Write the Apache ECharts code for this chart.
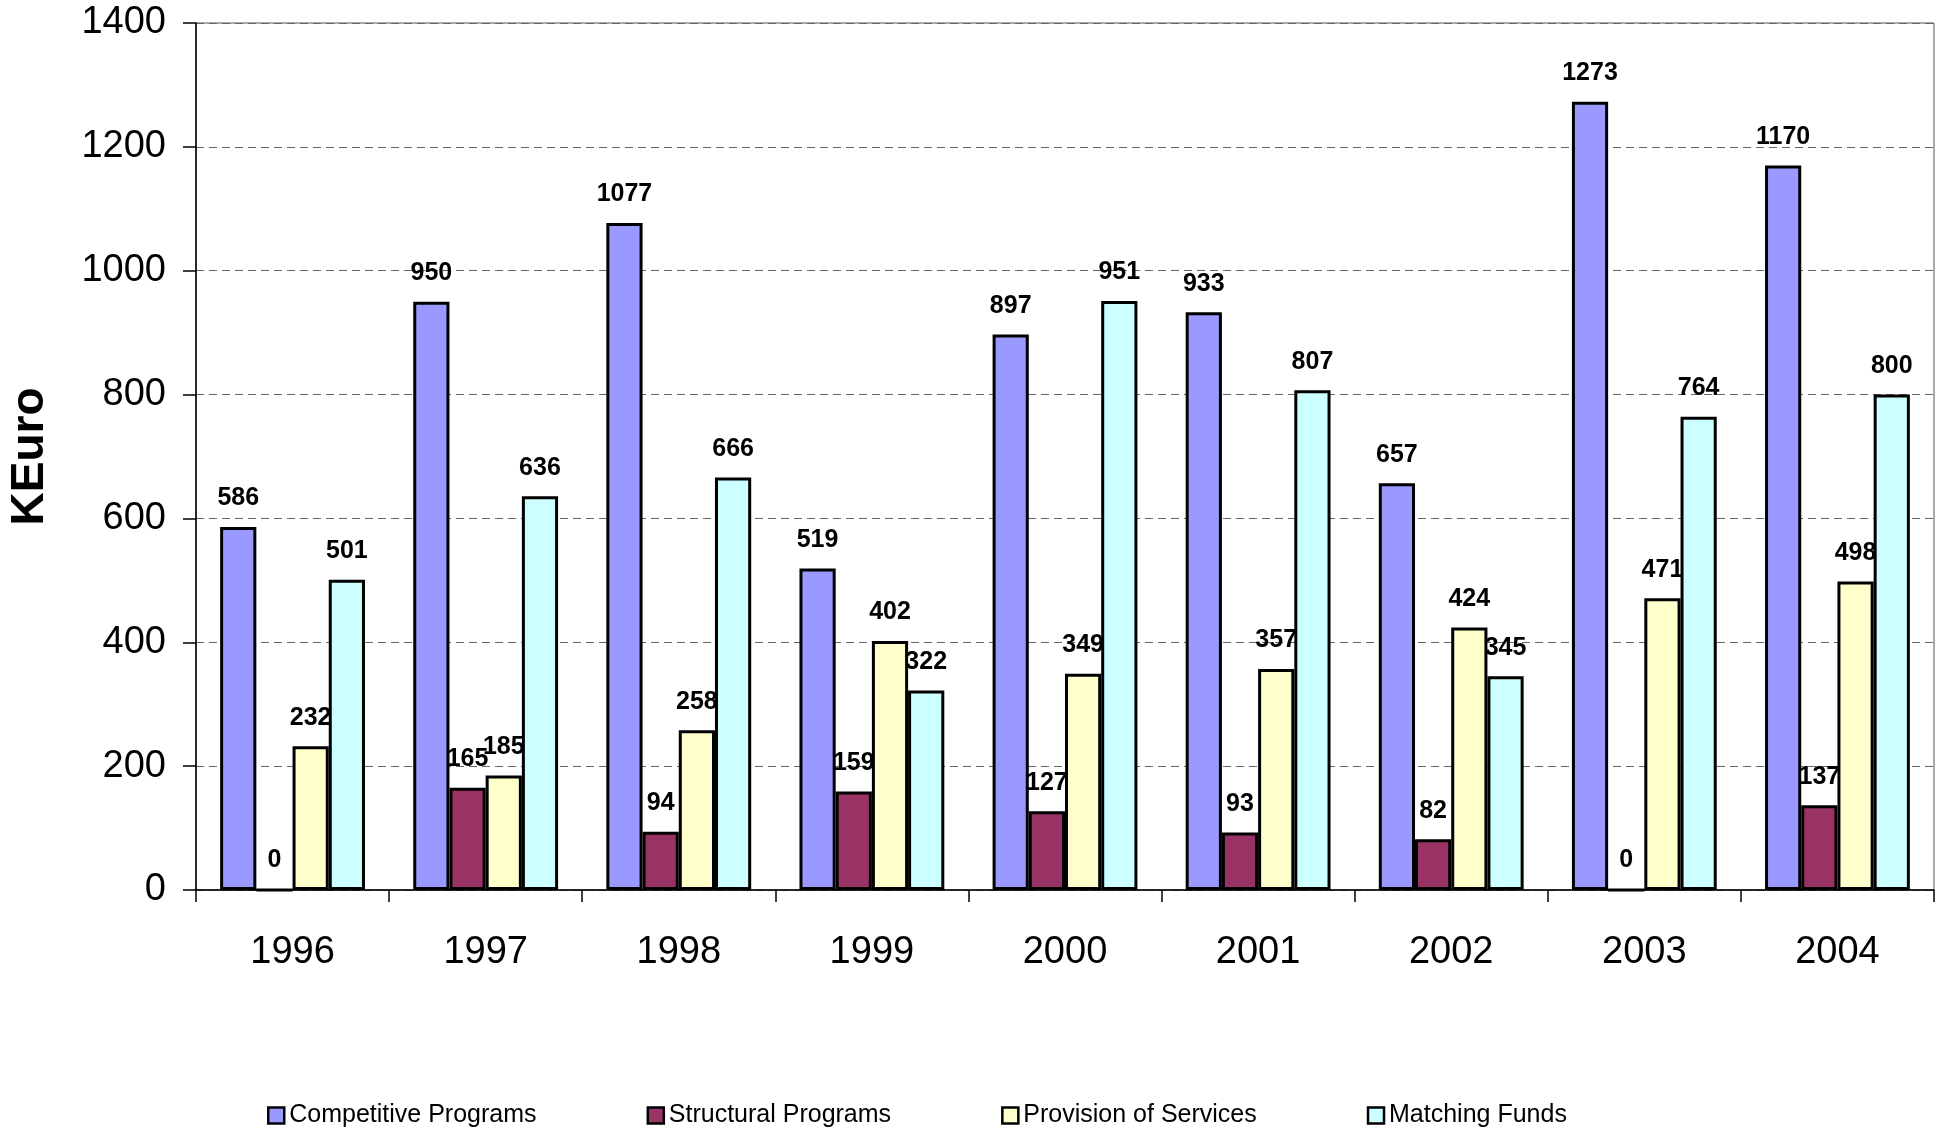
<!DOCTYPE html>
<html>
<head>
<meta charset="utf-8">
<script src="https://cdn.jsdelivr.net/npm/echarts@6/dist/echarts.min.js"></script>
<style>
html,body{margin:0;padding:0;background:#fff;}
#chart{width:1937px;height:1130px;}
</style>
</head>
<body>
<div id="chart"></div>
<script>
var categories = ['1996','1997','1998','1999','2000','2001','2002','2003','2004'];
var competitivePrograms = [586, 950, 1077, 519, 897, 933, 657, 1273, 1170];
var structuralPrograms = [0, 165, 94, 159, 127, 93, 82, 0, 137];
var provisionOfServices = [232, 185, 258, 402, 349, 357, 424, 471, 498];
var matchingFunds = [501, 636, 666, 322, 951, 807, 345, 764, 800];
var seriesNames = ['Competitive Programs','Structural Programs','Provision of Services','Matching Funds'];
var seriesColors = ['#9999FF','#993366','#FFFFCC','#CCFFFF'];
var seriesData = [competitivePrograms, structuralPrograms, provisionOfServices, matchingFunds];

var chart = echarts.init(document.getElementById('chart'));
var font = '"Liberation Sans", Arial, sans-serif';

var series = seriesData.map(function(d, i){
  return {
    name: seriesNames[i],
    type: 'bar',
    data: d,
    barGap: '0%',
    barCategoryGap: '25%',
    itemStyle: {color: seriesColors[i], borderColor: '#000', borderWidth: 3},
    label: {
      show: true,
      position: 'top',
      distance: 16,
      color: '#000',
      fontFamily: font,
      fontWeight: 'bold',
      fontSize: 25
    }
  };
});

chart.setOption({
  animation: false,
  backgroundColor: '#fff',
  grid: {left: 196, right: 3, top: 23, bottom: 240, containLabel: false, outerBoundsMode: 'none', show: true, borderColor: '#555', borderWidth: 1},
  legend: {
    data: seriesNames,
    left: 262,
    top: 1098,
    itemWidth: 16,
    itemHeight: 16,
    itemGap: 110,
    icon: 'rect',
    itemStyle: {borderColor: '#000', borderWidth: 2.5},
    textStyle: {fontFamily: font, fontSize: 25, color: '#000'}
  },
  xAxis: {
    type: 'category',
    data: categories,
    axisLine: {lineStyle: {color: '#000', width: 1.5}},
    axisTick: {show: true, length: 12, lineStyle: {color: '#000', width: 1.5}},
    axisLabel: {fontFamily: font, fontSize: 38, color: '#000', margin: 44}
  },
  yAxis: {
    type: 'value',
    min: 0,
    max: 1400,
    interval: 200,
    name: 'KEuro',
    nameLocation: 'middle',
    nameGap: 143,
    nameRotate: 90,
    nameTextStyle: {fontFamily: font, fontSize: 46, fontWeight: 'bold', color: '#000'},
    axisLine: {show: true, lineStyle: {color: '#000', width: 1.5}},
    axisTick: {show: true, length: 13, lineStyle: {color: '#000', width: 1.5}},
    axisLabel: {fontFamily: font, fontSize: 38, color: '#000', margin: 30, formatter: function(v){ return String(v); }},
    splitLine: {show: true, lineStyle: {color: '#666', width: 1, type: [8, 5]}}
  },
  series: series
});
</script>
</body>
</html>
